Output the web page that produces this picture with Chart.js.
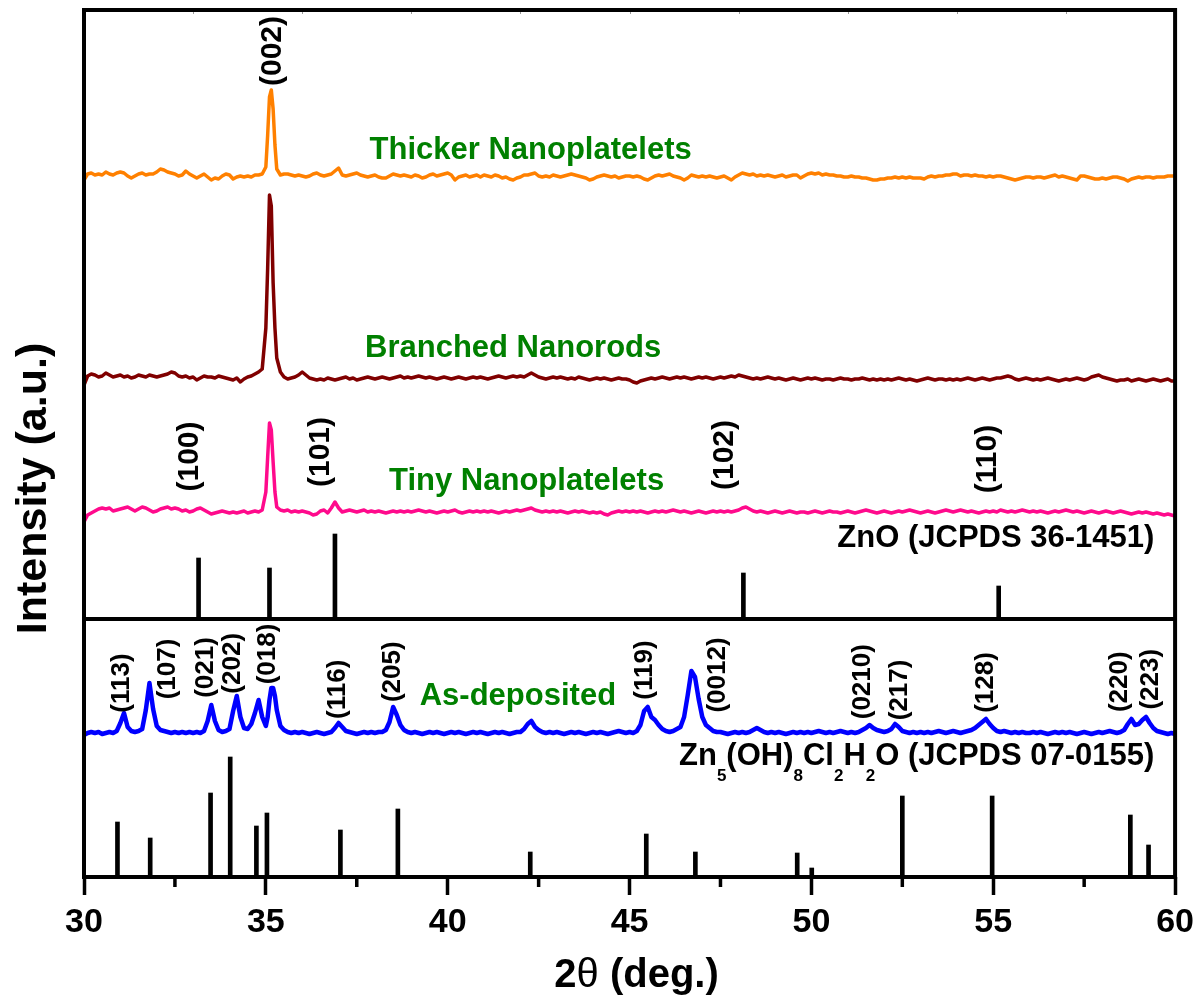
<!DOCTYPE html>
<html><head><meta charset="utf-8">
<script src="https://cdn.jsdelivr.net/npm/chart.js@4/dist/chart.umd.min.js"></script>
<style>html,body{margin:0;padding:0;background:#fff}canvas{display:block}</style>
</head><body>
<canvas id="c" width="1201" height="999"></canvas>
<script>
// 2-theta sampling positions (deg.)
const twoTheta = [
30,30.1,30.2,30.3,30.4,30.5,30.6,30.7,30.8,30.9,
31,31.1,31.2,31.3,31.4,31.5,31.6,31.7,31.8,31.9,
32,32.1,32.2,32.3,32.4,32.5,32.6,32.7,32.8,32.9,
33,33.1,33.2,33.3,33.4,33.5,33.6,33.7,33.8,33.9,
34,34.1,34.2,34.3,34.4,34.5,34.6,34.7,34.8,34.9,
35,35.05,35.1,35.15,35.2,35.25,35.3,35.4,35.5,35.6,35.7,35.8,35.9,
36,36.1,36.2,36.3,36.4,36.5,36.6,36.7,36.8,36.9,
37,37.1,37.2,37.3,37.4,37.5,37.6,37.7,37.8,37.9,
38,38.1,38.2,38.3,38.4,38.5,38.6,38.7,38.8,38.9,
39,39.1,39.2,39.3,39.4,39.5,39.6,39.7,39.8,39.9,
40,40.1,40.2,40.3,40.4,40.5,40.6,40.7,40.8,40.9,
41,41.1,41.2,41.3,41.4,41.5,41.6,41.7,41.8,41.9,
42,42.1,42.2,42.3,42.4,42.5,42.6,42.7,42.8,42.9,
43,43.1,43.2,43.3,43.4,43.5,43.6,43.7,43.8,43.9,
44,44.1,44.2,44.3,44.4,44.5,44.6,44.7,44.8,44.9,
45,45.1,45.2,45.3,45.4,45.5,45.6,45.7,45.8,45.9,
46,46.1,46.2,46.3,46.4,46.5,46.6,46.7,46.8,46.9,
47,47.1,47.2,47.3,47.4,47.5,47.6,47.7,47.8,47.9,
48,48.1,48.2,48.3,48.4,48.5,48.6,48.7,48.8,48.9,
49,49.1,49.2,49.3,49.4,49.5,49.6,49.7,49.8,49.9,
50,50.1,50.2,50.3,50.4,50.5,50.6,50.7,50.8,50.9,
51,51.1,51.2,51.3,51.4,51.5,51.6,51.7,51.8,51.9,
52,52.1,52.2,52.3,52.4,52.5,52.6,52.7,52.8,52.9,
53,53.1,53.2,53.3,53.4,53.5,53.6,53.7,53.8,53.9,
54,54.1,54.2,54.3,54.4,54.5,54.6,54.7,54.8,54.9,
55,55.1,55.2,55.3,55.4,55.5,55.6,55.7,55.8,55.9,
56,56.1,56.2,56.3,56.4,56.5,56.6,56.7,56.8,56.9,
57,57.1,57.2,57.3,57.4,57.5,57.6,57.7,57.8,57.9,
58,58.1,58.2,58.3,58.4,58.5,58.6,58.7,58.8,58.9,
59,59.1,59.2,59.3,59.4,59.5,59.6,59.7,59.8,59.9,
60];

// Intensities (a.u., above each pattern's own baseline)
const thickerNanoplatelets = [
-3,3,4,2,3,2,5,3,2,4,
5,4,1,-1,1,3,4,2,3,3,
5,8,7,5,4,3,1,2,6,3,
1,-1,1,3,0,-3,-1,-2,1,3,
2,-2,0,1,0,1,0,2,2,3,
10,42,80,87,68,32,8,2,3,3,2,1,2,
1,0,1,3,4,2,1,2,3,6,
9,2,1,2,3,4,2,1,0,1,
2,0,-1,-1,1,3,2,1,2,1,
0,2,1,-1,0,2,3,1,2,3,
4,2,-3,0,1,2,0,1,2,0,
2,1,0,2,1,-1,0,-2,-3,-1,
0,2,2,3,4,1,0,1,0,2,
1,0,1,2,3,2,1,0,-1,-3,
-2,0,1,2,1,0,1,-1,0,1,
1,0,1,0,-2,-3,-1,1,2,1,
2,3,1,0,-1,-3,-1,2,1,0,
1,0,1,0,-1,0,1,-1,-3,0,
2,4,3,2,3,1,2,1,2,1,
0,1,2,0,1,2,2,-1,1,3,
4,3,4,2,3,2,2,1,1,0,
0,1,0,0,-1,-1,-2,-3,-3,-2,
-2,-1,-1,0,-1,0,-1,0,-1,-1,
-1,-2,0,1,0,1,1,2,2,3,
3,1,2,2,1,2,1,1,0,1,
0,1,1,0,-1,-2,-3,-2,-1,0,
0,-1,0,0,-1,0,1,2,0,1,
0,-1,-2,-3,1,1,0,-1,-2,-2,
-1,-2,-1,0,0,-1,-2,-4,-2,-1,
0,-1,0,0,-1,0,0,0,1,1,
1];

const branchedNanorods = [
-7,2,4,3,1,2,5,3,1,2,
3,1,2,0,1,3,2,1,3,2,
1,2,3,4,6,5,2,1,2,0,
1,-2,0,2,1,1,0,2,1,0,
-1,-2,0,-4,-1,1,2,4,6,9,
50,110,183,172,95,50,20,6,1,-1,0,1,3,
6,3,0,-1,-2,-1,-2,0,-1,-2,
-1,0,1,-1,0,-2,-1,0,1,0,
-1,0,1,0,-1,0,1,2,0,1,
0,1,2,1,0,1,0,-1,0,1,
0,-1,0,1,0,-1,0,1,0,1,
0,-1,0,1,2,1,0,1,2,1,
2,1,3,5,3,1,0,-1,0,1,
0,1,0,-1,0,-1,1,0,-1,-2,
-1,0,-1,0,-1,-2,-1,0,-1,-1,
-2,-4,-5,-3,-2,-1,0,-1,0,1,
0,-1,0,1,0,1,0,-1,0,1,
0,1,0,-1,0,1,0,1,2,1,
3,2,1,0,-1,0,-1,0,1,0,
-1,0,-1,-2,-1,0,-1,-2,-1,0,
-1,0,-1,-2,-1,-1,-2,-1,0,-1,
-1,-2,-1,-1,0,-1,-2,-1,-2,-1,
-2,-1,-2,-1,0,-1,-2,-1,-2,-3,
-2,-1,0,-1,-2,-1,-1,-2,-1,-2,
-1,-2,-1,0,-1,-2,-1,0,-1,-2,
-1,0,0,1,2,1,-1,-2,-1,0,
-1,-2,-1,-2,-1,0,-1,-2,-3,-2,
-1,-2,-1,0,-1,-2,-1,1,2,3,
1,0,-1,-2,-3,-2,-2,-1,-3,-2,
-1,-2,-3,-2,-1,-2,-3,-2,-1,-3,
-3];

const tinyNanoplatelets = [
-10,-3,-1,1,3,4,3,4,1,2,
3,4,5,3,1,3,5,4,2,0,
1,3,4,5,3,4,3,1,2,0,
1,3,4,2,0,-2,-1,0,1,0,
-1,0,-1,0,1,-1,0,1,0,2,
20,55,89,82,50,20,5,2,1,2,0,1,0,
1,0,-1,-3,-2,1,2,-1,4,10,
4,0,1,2,1,0,1,2,0,1,
0,1,0,-1,0,1,0,1,0,1,
0,1,2,1,0,1,0,-1,0,1,
0,1,2,0,-1,0,1,0,1,0,
1,0,1,0,-1,0,1,0,1,2,
1,2,3,4,2,1,0,1,0,1,
0,1,0,-1,0,1,0,1,0,-1,
0,-1,0,-2,-3,-1,0,1,0,1,
0,1,0,1,0,-1,0,1,0,1,
0,1,2,1,0,1,0,-1,0,1,
0,-1,0,1,0,1,0,1,0,1,
2,4,5,3,1,0,1,0,-1,0,
1,0,-1,0,1,0,-1,0,0,-1,
0,1,0,-1,0,1,0,0,-1,0,
1,0,-1,0,1,2,1,0,-1,0,
1,0,-1,0,1,0,1,2,1,0,
-1,0,1,0,-1,0,1,2,1,0,
1,2,1,0,1,0,-1,0,1,0,
1,0,2,1,0,1,0,1,2,1,
0,1,0,1,0,-1,0,1,0,1,
2,1,0,1,0,-1,0,1,0,-1,
0,1,0,-1,0,1,0,-1,-2,-1,
0,-1,0,-1,-2,-1,-2,-3,-2,-3,
-4];

const asDeposited = [
-2,0,1,0,1,-1,0,1,0,2,
10,20,6,2,1,2,4,23,50,24,
7,3,2,1,0,1,0,1,0,1,
0,1,0,2,12,28,12,3,1,2,
4,22,37,16,5,4,9,20,33,16,
7,16,33,45,45,37,23,7,3,1,0,1,0,
1,0,-1,0,1,0,-1,0,1,5,
10,6,2,1,0,-1,0,1,0,1,
0,1,1,3,11,26,18,8,3,1,
0,1,0,-1,0,1,0,1,0,-1,
0,1,0,1,0,-1,0,1,0,1,
0,-1,0,1,0,1,0,-1,0,1,
1,4,9,12,6,3,1,0,1,0,
1,0,-1,0,1,0,1,0,-1,0,
1,0,1,0,-1,0,1,2,1,0,
1,0,2,8,22,26,16,13,8,4,
2,1,2,4,6,16,38,62,56,34,
16,8,5,2,1,1,0,-1,0,1,
0,1,0,1,3,5,3,1,0,1,
0,1,0,-1,0,1,0,1,0,1,
0,1,2,1,0,1,0,1,2,1,
0,1,0,1,3,5,8,5,3,2,
1,2,4,9,6,2,1,0,1,0,
1,0,1,0,1,2,1,0,1,2,
1,0,1,2,3,5,8,11,14,9,
5,2,1,2,1,0,1,0,1,0,
0,1,0,1,0,-1,0,1,0,1,
0,1,0,-1,0,1,0,-1,0,1,
0,1,2,1,0,1,3,9,14,8,
9,13,16,10,5,2,1,0,-1,0,
-1];

// vertical offsets of the stacked patterns and the panel separator level
const patternBaselines = [700, 499, 365, 144];
const panelSeparator = 258;

// Reference stick patterns
const znoPositions = [33.15, 35.10, 36.90, 48.13, 55.15];
const znoHeights   = [61, 51, 85, 46, 33];
const zhcPositions = [30.92, 31.82, 33.48, 34.02, 34.74, 35.03, 37.05, 38.63, 42.27, 45.46, 46.81, 49.61, 50.01, 52.50, 54.97, 58.77, 59.27];
const zhcHeights   = [55, 39, 84, 120, 51, 64, 47, 68, 25, 43, 25, 24, 9, 81, 81, 62, 32];

// Labels
const sampleNames  = ['Thicker Nanoplatelets', 'Branched Nanorods', 'Tiny Nanoplatelets', 'As-deposited'];
const sampleLabelX = [42.28, 41.80, 42.17, 41.93];
const sampleLabelY = [718, 520.3, 387, 172];
const upperHkl  = ['(002)', '(100)', '(101)', '(102)', '(110)'];
const upperHklX = [35.19, 32.91, 36.52, 47.61, 54.85];
const upperHklY = [826, 420.5, 425, 422, 418];
const lowerHkl  = ['(113)', '(107)', '(021)', '(202)', '(018)', '(116)', '(205)', '(119)', '(0012)', '(0210)', '(217)', '(128)', '(220)', '(223)'];
const lowerHklX = [31.03, 32.31, 33.36, 34.10, 35.06, 36.98, 38.50, 45.41, 47.43, 51.41, 52.42, 54.79, 58.47, 59.34];
const lowerHklY = [194, 208, 209.5, 213.7, 223, 187.7, 205.3, 207, 202, 195.3, 187, 194.5, 195.3, 197.8];
const znoRefLabel = 'ZnO (JCPDS 36-1451)';
const zhcRefLabel = [['Zn', 0], ['5', 1], ['(OH)', 0], ['8', 1], ['Cl', 0], ['2', 1], ['H', 0], ['2', 1], ['O (JCPDS 07-0155)', 0]];
const refLabelRightX = 59.43;
const znoRefLabelY = 330.3;
const zhcRefLabelY = 112;

// Axis ticks
const xMajorTicks = [30, 35, 40, 45, 50, 55, 60];
const xMinorTicks = [32.5, 37.5, 42.5, 47.5, 52.5, 57.5];
const xTopTicks = [33, 36, 39, 42, 45, 48, 51, 54, 57];

const FONT = '"Liberation Sans", Arial, Helvetica, sans-serif';
const seriesValues = [thickerNanoplatelets, branchedNanorods, tinyNanoplatelets, asDeposited];
const seriesColors = ['#FF8000', '#800000', '#FF0A8C', '#0000FF'];
const seriesWidths = [3.5, 3.5, 3.5, 4.5];

const datasets = [];
seriesValues.forEach((vals, k) => {
  datasets.push({
    type: 'line',
    label: sampleNames[k],
    data: twoTheta.map((t, i) => ({x: t, y: patternBaselines[k] + vals[i]})),
    borderColor: seriesColors[k],
    borderWidth: seriesWidths[k],
    pointRadius: 0,
    tension: 0,
    fill: false,
    borderJoinStyle: 'round'
  });
});
datasets.push({
  type: 'line', label: 'separator',
  data: [{x: 30, y: panelSeparator}, {x: 60, y: panelSeparator}],
  borderColor: '#000', borderWidth: 4, pointRadius: 0
});
datasets.push({
  type: 'bar', label: 'ZnO ref',
  data: znoPositions.map((p, i) => ({x: p, y: [panelSeparator, panelSeparator + znoHeights[i]]})),
  backgroundColor: '#000', barThickness: 4, grouped: false, borderWidth: 0
});
datasets.push({
  type: 'bar', label: 'Zn5 ref',
  data: zhcPositions.map((p, i) => ({x: p, y: [0, zhcHeights[i]]})),
  backgroundColor: '#000', barThickness: 4, grouped: false, borderWidth: 0
});

const decor = {
  id: 'decor',
  afterDatasetsDraw(chart) {
    const {ctx, chartArea: a, scales: {x, y}} = chart;
    ctx.save();
    // top faint ticks
    ctx.strokeStyle = '#999'; ctx.lineWidth = 1;
    xTopTicks.forEach(v => {
      const px = Math.round(x.getPixelForValue(v)) + 0.5;
      ctx.beginPath(); ctx.moveTo(px, a.top); ctx.lineTo(px, a.top + 4); ctx.stroke();
    });
    // frame
    ctx.strokeStyle = '#000'; ctx.lineWidth = 4;
    ctx.strokeRect(a.left, a.top, a.right - a.left, a.bottom - a.top);
    // minor ticks
    ctx.lineWidth = 3.5;
    xMinorTicks.forEach(v => {
      const px = x.getPixelForValue(v);
      ctx.beginPath(); ctx.moveTo(px, a.bottom); ctx.lineTo(px, a.bottom + 10); ctx.stroke();
    });
    // sample names
    ctx.fillStyle = '#008000';
    ctx.font = 'bold 31px ' + FONT;
    ctx.textAlign = 'center'; ctx.textBaseline = 'alphabetic';
    sampleNames.forEach((s, i) => ctx.fillText(s, x.getPixelForValue(sampleLabelX[i]), y.getPixelForValue(sampleLabelY[i])));
    // hkl labels
    ctx.fillStyle = '#000';
    const rot = (txt, px, py, font) => {
      ctx.save(); ctx.translate(px, py); ctx.rotate(-Math.PI / 2);
      ctx.font = font; ctx.textAlign = 'center'; ctx.textBaseline = 'middle';
      ctx.fillText(txt, 0, 0); ctx.restore();
    };
    upperHkl.forEach((s, i) => rot(s, x.getPixelForValue(upperHklX[i]), y.getPixelForValue(upperHklY[i]), 'bold 30px ' + FONT));
    lowerHkl.forEach((s, i) => rot(s, x.getPixelForValue(lowerHklX[i]), y.getPixelForValue(lowerHklY[i]), 'bold 26px ' + FONT));
    // reference labels
    const rx = x.getPixelForValue(refLabelRightX);
    ctx.font = 'bold 31px ' + FONT; ctx.textAlign = 'right'; ctx.textBaseline = 'alphabetic';
    ctx.fillText(znoRefLabel, rx, y.getPixelForValue(znoRefLabelY));
    const mainF = 'bold 31px ' + FONT, subF = 'bold 17px ' + FONT;
    let total = 0;
    zhcRefLabel.forEach(([t, sub]) => { ctx.font = sub ? subF : mainF; total += ctx.measureText(t).width; });
    let cx = rx - total; const by = y.getPixelForValue(zhcRefLabelY);
    ctx.textAlign = 'left';
    zhcRefLabel.forEach(([t, sub]) => {
      ctx.font = sub ? subF : mainF;
      ctx.fillText(t, cx, sub ? by + 16 : by);
      cx += ctx.measureText(t).width;
    });
    // axis titles
    ctx.save();
    ctx.translate(45.7, (a.top + a.bottom) / 2 + 45);
    ctx.rotate(-Math.PI / 2);
    ctx.font = 'bold 43px ' + FONT; ctx.textAlign = 'center'; ctx.textBaseline = 'alphabetic';
    ctx.fillText('Intensity (a.u.)', 0, 0);
    ctx.restore();
    const parts = [['2', 'bold 40px ' + FONT], ['\u03B8', '40px ' + FONT], [' (deg.)', 'bold 40px ' + FONT]];
    let tw = 0;
    parts.forEach(([t, f]) => { ctx.font = f; tw += ctx.measureText(t).width; });
    let tx = (a.left + a.right) / 2 + 7 - tw / 2;
    ctx.textAlign = 'left';
    parts.forEach(([t, f]) => { ctx.font = f; ctx.fillText(t, tx, 987); tx += ctx.measureText(t).width; });
    ctx.restore();
  }
};

new Chart(document.getElementById('c'), {
  type: 'line',
  data: {datasets},
  options: {
    responsive: false,
    animation: false,
    events: [],
    layout: {padding: {top: 10, right: 25, left: 0, bottom: 0}},
    plugins: {legend: {display: false}, tooltip: {enabled: false}},
    scales: {
      x: {
        type: 'linear', min: 30, max: 60, offset: false, position: 'bottom',
        afterBuildTicks: s => { s.ticks = xMajorTicks.map(v => ({value: v})); },
        ticks: {font: {family: FONT, size: 34, weight: 'bold'}, color: '#000', padding: 7, maxRotation: 0, autoSkip: false,
                callback: v => String(v)},
        grid: {display: true, drawOnChartArea: false, drawTicks: true, tickLength: 18, tickWidth: 3.5, tickColor: '#000', offset: false},
        border: {display: false},
        afterFit: s => { s.height = 122; }
      },
      y: {
        type: 'linear', min: 0, max: 867,
        ticks: {display: false},
        grid: {display: false, drawTicks: false},
        border: {display: false},
        afterFit: s => { s.width = 84; }
      }
    }
  },
  plugins: [decor]
});
</script>
</body></html>
